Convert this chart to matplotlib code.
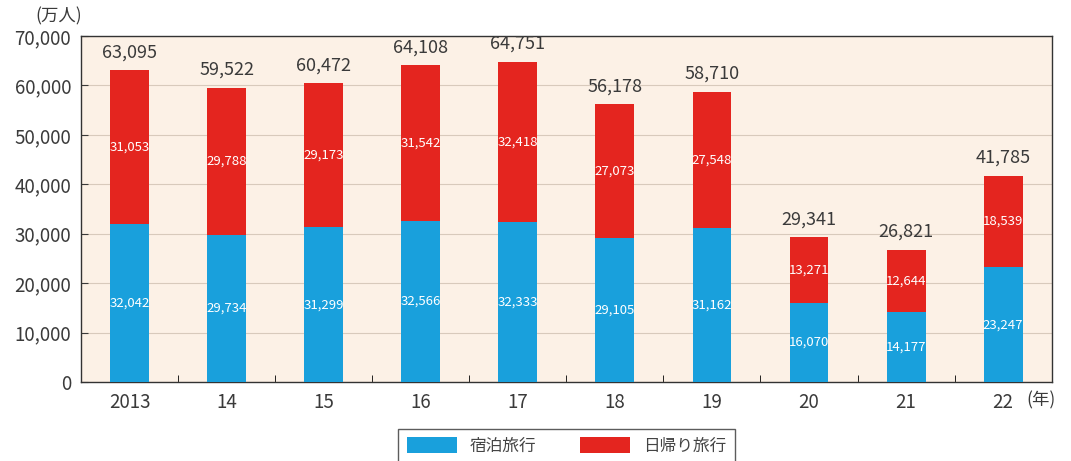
import numpy as np
import matplotlib
matplotlib.use('Agg')
import matplotlib.pyplot as plt
from matplotlib.patches import Patch
from matplotlib.ticker import FuncFormatter

plt.rcParams['font.family'] = ['Noto Sans CJK JP', 'DejaVu Sans']

years = ['2013', '14', '15', '16', '17', '18', '19', '20', '21', '22']
stay = [32042, 29734, 31299, 32566, 32333, 29105, 31162, 16070, 14177, 23247]
dayTrip = [31053, 29788, 29173, 31542, 32418, 27073, 27548, 13271, 12644, 18539]
totals = [63095, 59522, 60472, 64108, 64751, 56178, 58710, 29341, 26821, 41785]

blue = '#19a0dc'
red = '#e4251f'
bg = '#fcf1e6'
txt = '#3a3a3a'

fig = plt.figure(figsize=(10.71, 4.61), dpi=100)
ax = fig.add_axes([0.0756, 0.171, 0.9064, 0.751])
ax.set_facecolor(bg)

x = np.arange(len(years))
w = 0.40
ax.bar(x, stay, width=w, color=blue, zorder=3)
ax.bar(x, dayTrip, width=w, bottom=stay, color=red, zorder=3)

for i in range(len(years)):
    # inner labels, centre of each segment
    ax.text(x[i], stay[i] / 2, f'{stay[i]:,}', ha='center', va='center',
            color='white', fontsize=9.5, zorder=4)
    ax.text(x[i], stay[i] + dayTrip[i] / 2, f'{dayTrip[i]:,}', ha='center',
            va='center', color='white', fontsize=9.5, zorder=4)
    ax.text(x[i], totals[i] + 1800, f'{totals[i]:,}', ha='center', va='bottom',
            color=txt, fontsize=13, zorder=4)

ax.set_xlim(-0.5, len(years) - 0.5)
ax.set_ylim(0, 70000)
ax.set_yticks(np.arange(0, 70001, 10000))
ax.yaxis.set_major_formatter(FuncFormatter(lambda v, p: f'{int(v):,}'))
ax.set_xticks(x)
ax.set_xticklabels(years)
ax.set_xticks(np.arange(0.5, len(years) - 1, 1), minor=True)
ax.tick_params(axis='x', which='major', length=0, labelsize=13.5,
               colors=txt, pad=7)
ax.tick_params(axis='x', which='minor', direction='in', length=5)
ax.tick_params(axis='y', direction='in', length=5, labelsize=13.5,
               colors=txt, pad=7)
ax.grid(axis='y', color='#d8cabc', linewidth=0.8, zorder=1)
for s in ax.spines.values():
    s.set_color('#333333')
    s.set_linewidth(1.0)

fig.text(0.033, 0.965, '(万人)', fontsize=12.5, color=txt, va='center')
fig.text(0.958, 0.132, '(年)', fontsize=12.5, color=txt, va='center', ha='left')

handles = [Patch(facecolor=blue, label='宿泊旅行'),
           Patch(facecolor=red, label='日帰り旅行')]
leg = fig.legend(handles=handles, loc='upper center', bbox_to_anchor=(0.529, 0.088),
                 ncol=2, frameon=True, fancybox=False, fontsize=12,
                 handlelength=3.0, handleheight=1.1, columnspacing=2.6,
                 borderpad=0.5)
leg.get_frame().set_edgecolor('#333333')
leg.get_frame().set_linewidth(1.0)
for t in leg.get_texts():
    t.set_color('#444444')

fig.savefig('out.png', dpi=100)
